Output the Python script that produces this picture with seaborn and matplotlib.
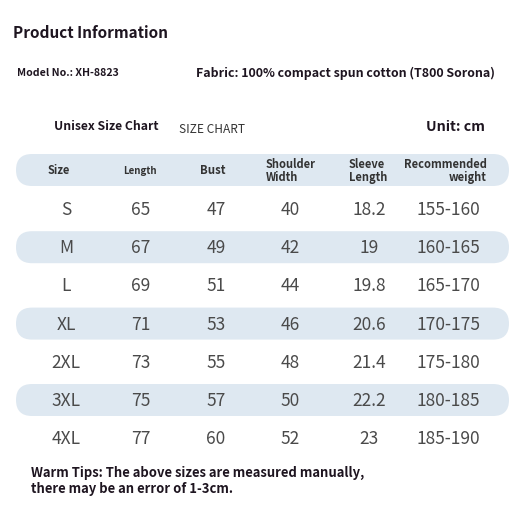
import numpy as np
import pandas as pd
import matplotlib.pyplot as plt
import seaborn as sns
from matplotlib.patches import FancyBboxPatch

# Table values
sizes = ["S", "M", "L", "XL", "2XL", "3XL", "4XL"]
length = [65, 67, 69, 71, 73, 75, 77]
bust = [47, 49, 51, 53, 55, 57, 60]
shoulder = [40, 42, 44, 46, 48, 50, 52]
sleeve = ["18.2", "19", "19.8", "20.6", "21.4", "22.2", "23"]
weight = ["155-160", "160-165", "165-170", "170-175", "175-180", "180-185", "185-190"]
headers = ["Size", "Length", "Bust", "Shoulder\nWidth", "Sleeve\nLength", "Recommended\nweight"]

df = pd.DataFrame({"Size": sizes, "Length": length, "Bust": bust,
                   "Shoulder": shoulder, "Sleeve": sleeve, "Weight": weight})

sns.set_theme(style="white")
plt.rcParams['font.family'] = ['Noto Sans CJK SC', 'DejaVu Sans']

dark = "#1e1520"
grey = "#4a4a4a"
band = "#dee8f1"

fig = plt.figure(figsize=(5.3, 5.1), dpi=100)
ax = fig.add_axes([0, 0, 1, 1])
ax.set_xlim(0, 530)
ax.set_ylim(510, 0)
ax.axis('off')

# top texts
ax.text(13, 33, "Product Information", fontsize=11, fontweight='bold', color=dark, va='center')
ax.text(17, 73, "Model No.: XH-8823", fontsize=7.6, fontweight='bold', color=dark, va='center')
ax.text(196, 73, "Fabric: 100% compact spun cotton (T800 Sorona)", fontsize=8.9,
        fontweight='bold', color=dark, va='center')
ax.text(54, 126, "Unisex Size Chart", fontsize=8.8, fontweight='bold', color=dark, va='center')
ax.text(179, 130, "SIZE CHART", fontsize=8.6, color="#333333", va='center')
ax.text(485, 127, "Unit: cm", fontsize=10.2, fontweight='bold', color=dark, va='center', ha='right')

# header band
left, right = 16, 509
ax.add_patch(FancyBboxPatch((left, 155), right - left, 32,
                            boxstyle="round,pad=0,rounding_size=16",
                            fc=band, ec='none'))
hx = [59, 140, 213, 266, 349, 487]
ha = ['center', 'center', 'center', 'left', 'left', 'right']
hs = [8, 7, 8.2, 8, 8, 8]
for h, x, a, s in zip(headers, hx, ha, hs):
    ax.text(x, 171, h, fontsize=s, fontweight='bold', color="#333333",
            ha=a, va='center', multialignment=a, linespacing=1.05)

# rows
y0, step = 210, 38.2
cx = [66, 141, 216, 290, 369, 448]
for i, row in df.iterrows():
    y = y0 + i * step
    if i % 2 == 1:
        ax.add_patch(FancyBboxPatch((left, y - 16), right - left, 32,
                                    boxstyle="round,pad=0,rounding_size=16",
                                    fc=band, ec='none'))
    for x, val in zip(cx, row.values):
        ax.text(x, y, str(val), fontsize=12.5, fontweight='light', color=grey,
                ha='center', va='center')

# note
ax.text(31, 473, "Warm Tips: The above sizes are measured manually,", fontsize=9.4,
        fontweight='bold', color=dark, va='center')
ax.text(31, 489, "there may be an error of 1-3cm.", fontsize=9.4,
        fontweight='bold', color=dark, va='center')

fig.savefig("out.png", dpi=100, facecolor='white')
